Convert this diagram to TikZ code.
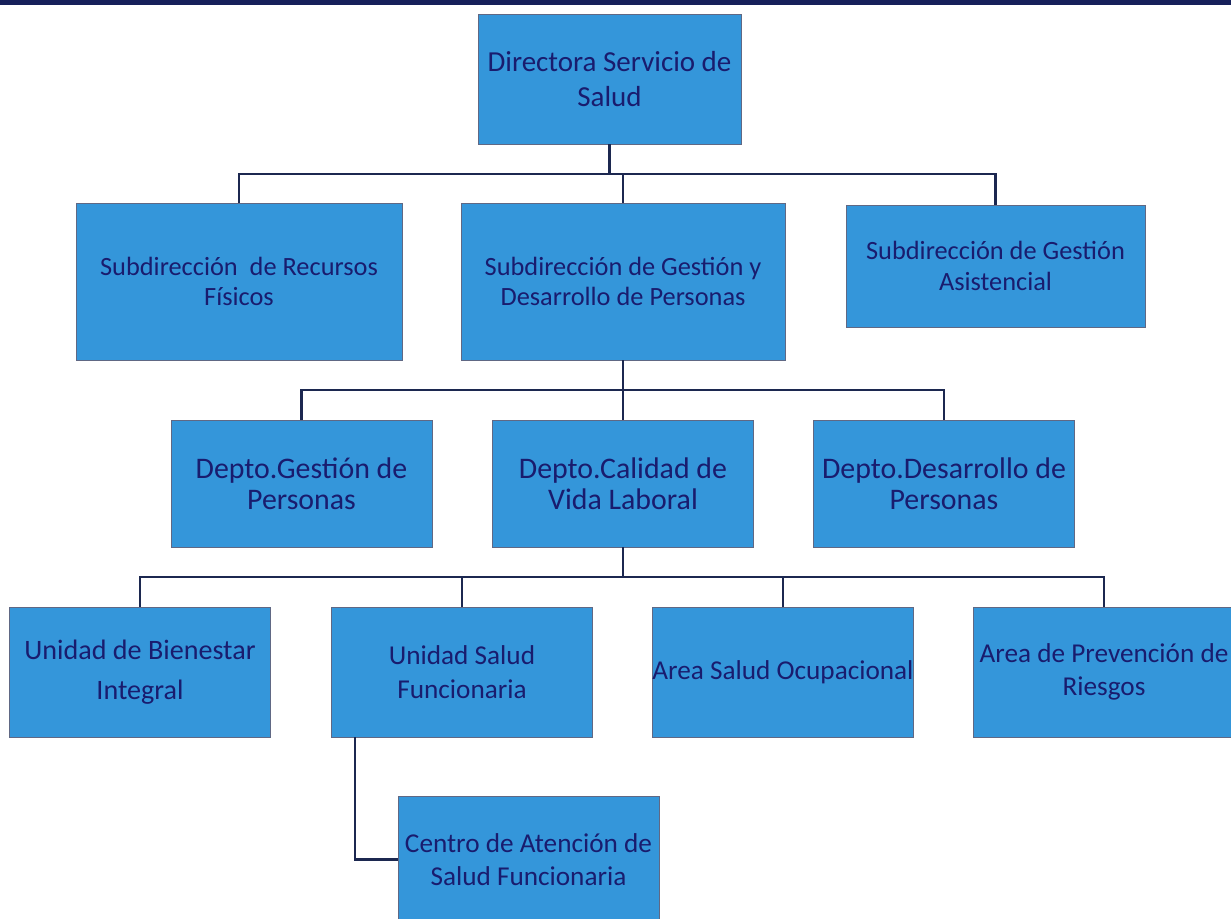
\documentclass[tikz,border=0pt]{standalone}
\usepackage{fontspec}
\setmainfont{Carlito}
\usepackage{tikz}
\usetikzlibrary{positioning}
\definecolor{boxBlue}{RGB}{52,150,218}
\definecolor{boxText}{RGB}{25,28,110}
\definecolor{lineNavy}{RGB}{28,40,80}
\definecolor{barNavy}{RGB}{22,32,90}
\tikzstyle{orgBox} = [rectangle, fill=boxBlue, draw=lineNavy!70, line width=.5pt, text=boxText, align=center, inner sep=0pt, minimum width=5.22cm, minimum height=2.6cm, font=\fontsize{15.5}{19}\selectfont]
\tikzstyle{orgLine} = [draw=lineNavy, line width=1.3pt]

\begin{document}
\begin{tikzpicture}[x=0.02cm,y=-0.02cm]
		\useasboundingbox (0,0) rectangle (1231,919);
		\clip (0,0) rectangle (1231,919);
		\fill[white] (0,0) rectangle (1231,919);
		\fill[barNavy] (0,0) rectangle (1231,5);
		
		\node [orgBox,minimum width=5.26cm,font=\fontsize{16.5}{20}\selectfont](dir) at (609.5,79) {Directora Servicio de\\Salud};
		
		\node [orgBox,minimum width=6.52cm,minimum height=3.14cm,font=\fontsize{15}{17.5}\selectfont](s1) at (239,281.5) {Subdirección~ de Recursos\\Físicos};
		\node [orgBox,minimum width=6.48cm,minimum height=3.14cm,font=\fontsize{15}{17.5}\selectfont](s2) at (623,281.5) {Subdirección de Gestión y\\Desarrollo de Personas};
		\node [orgBox,minimum width=5.98cm,minimum height=2.44cm,font=\fontsize{15}{17.5}\selectfont](s3) at (995.5,266) {Subdirección de Gestión\\Asistencial};
		
		\node [orgBox,minimum height=2.54cm,font=\fontsize{17}{17.5}\selectfont](d1) at (301.5,483.5) {Depto.Gestión de\\Personas};
		\node [orgBox,minimum height=2.54cm,font=\fontsize{17}{17.5}\selectfont](d2) at (623,483.5) {Depto.Calidad de\\Vida Laboral};
		\node [orgBox,minimum height=2.54cm,font=\fontsize{17}{17.5}\selectfont](d3) at (944,483.5) {Depto.Desarrollo de\\Personas};
		
		\node [orgBox,font=\fontsize{16}{23}\selectfont](u1) at (140,672) {Unidad de Bienestar\\Integral};
		\node [orgBox](u2) at (462,672) {Unidad Salud\\Funcionaria};
		\node [orgBox](u3) at (783,672) {Area Salud Ocupacional};
		\node [orgBox](u4) at (1104,672) {Area de Prevención de\\Riesgos};
		
		\node [orgBox,minimum height=2.54cm](c1) at (528.5,859.5) {Centro de Atención de\\Salud Funcionaria};
		
		%\node [orgBox](c2) ...
		\coordinate (bus1) at (0,174);
		\coordinate (bus2) at (0,390);
		\coordinate (bus3) at (0,577);
		
		\draw [orgLine] (dir.south) -- (dir.south |- bus1);
		\draw [orgLine] (s1.north) -- (s1.north |- bus1) -- (s3.north |- bus1) -- (s3.north);
		\draw [orgLine] (s2.north) -- (s2.north |- bus1);
		
		\draw [orgLine] (s2.south) -- (s2.south |- bus2);
		\draw [orgLine] (d1.north) -- (d1.north |- bus2) -- (d3.north |- bus2) -- (d3.north);
		\draw [orgLine] (d2.north) -- (d2.north |- bus2);
		
		\draw [orgLine] (d2.south) -- (d2.south |- bus3);
		\draw [orgLine] (u1.north) -- (u1.north |- bus3) -- (u4.north |- bus3) -- (u4.north);
		\draw [orgLine] (u2.north) -- (u2.north |- bus3);
		\draw [orgLine] (u3.north) -- (u3.north |- bus3);
		
		\draw [orgLine] ([xshift=0.48cm]u2.south west) |- (c1.west);
		
		\end{tikzpicture}
\end{document}
